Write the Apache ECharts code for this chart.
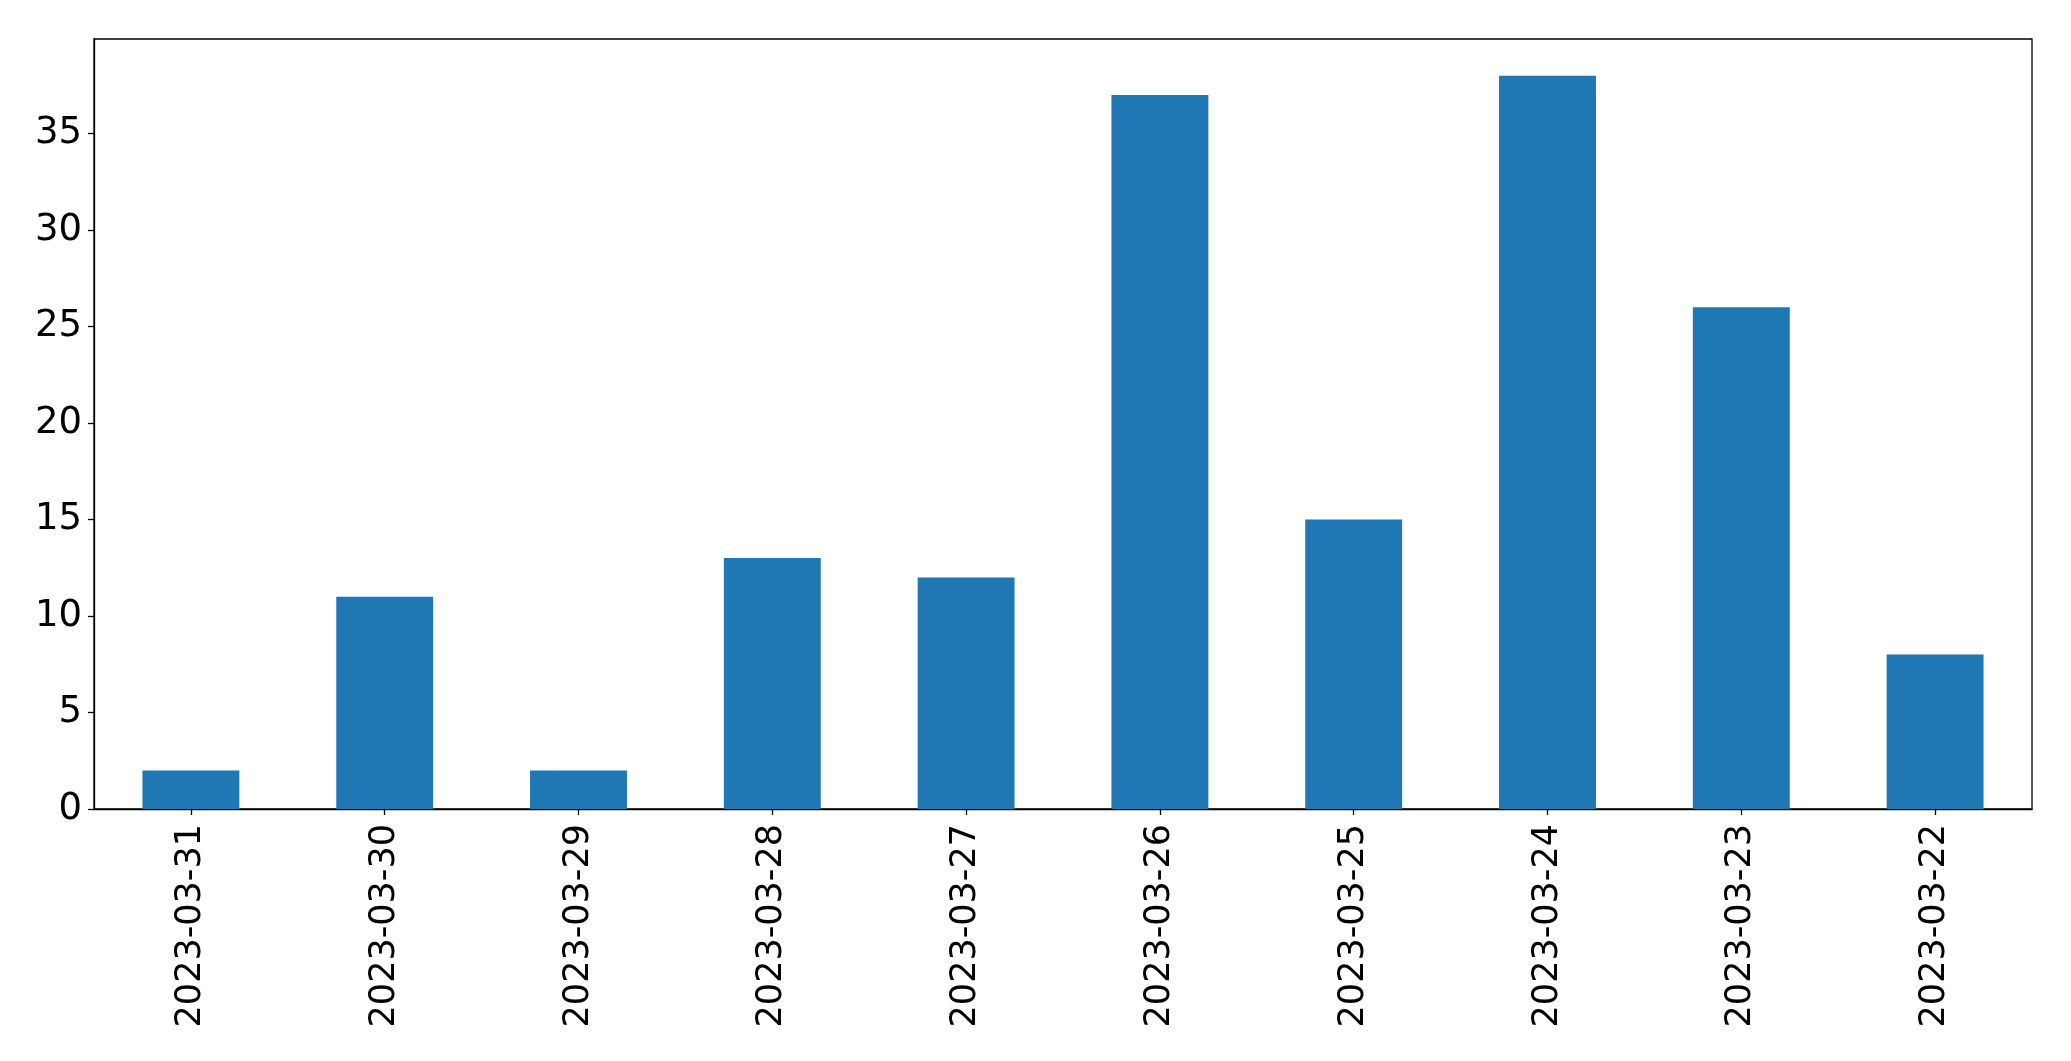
<!DOCTYPE html>
<html>
<head>
<meta charset="utf-8">
<script src="https://cdn.jsdelivr.net/npm/echarts@6/dist/echarts.min.js"></script>
<style>
html,body{margin:0;padding:0;background:#fff;}
#chart{width:2071px;height:1061px;}
</style>
</head>
<body>
<div id="chart"></div>
<script>
const categories = ['2023-03-31','2023-03-30','2023-03-29','2023-03-28','2023-03-27','2023-03-26','2023-03-25','2023-03-24','2023-03-23','2023-03-22'];
const values = [2, 11, 2, 13, 12, 37, 15, 38, 26, 8];
const yTicks = [0, 5, 10, 15, 20, 25, 30, 35];

const chart = echarts.init(document.getElementById('chart'), null, {renderer: 'canvas'});
const font = 'DejaVu Sans';
chart.setOption({
  animation: false,
  backgroundColor: '#ffffff',
  grid: {left: 94, top: 39, width: 1938, height: 770, containLabel: false,
         show: true, borderColor: '#000', borderWidth: 1.3, backgroundColor: 'transparent'},
  xAxis: {
    type: 'category',
    data: categories,
    axisLine: {show: true, lineStyle: {color: '#000', width: 1.3}},
    axisTick: {show: true, alignWithLabel: true, length: 6, lineStyle: {color: '#000', width: 1.3}},
    axisLabel: {rotate: 90, margin: 15, color: '#000', fontSize: 35, fontFamily: font, interval: 0},
    splitLine: {show: false}
  },
  yAxis: {
    type: 'value',
    min: 0,
    max: 39.9,
    interval: 5,
    axisLine: {show: true, lineStyle: {color: '#000', width: 1.3}},
    axisTick: {show: true, length: 6, lineStyle: {color: '#000', width: 1.3}},
    axisLabel: {margin: 12, color: '#000', fontSize: 37, fontFamily: font, showMaxLabel: false,
      formatter: v => (yTicks.indexOf(v) >= 0 ? String(v) : '')},
    splitLine: {show: false}
  },
  series: [{
    type: 'bar',
    data: values,
    barWidth: '50%',
    itemStyle: {color: '#1f77b4'}
  }]
});
</script>
</body>
</html>
